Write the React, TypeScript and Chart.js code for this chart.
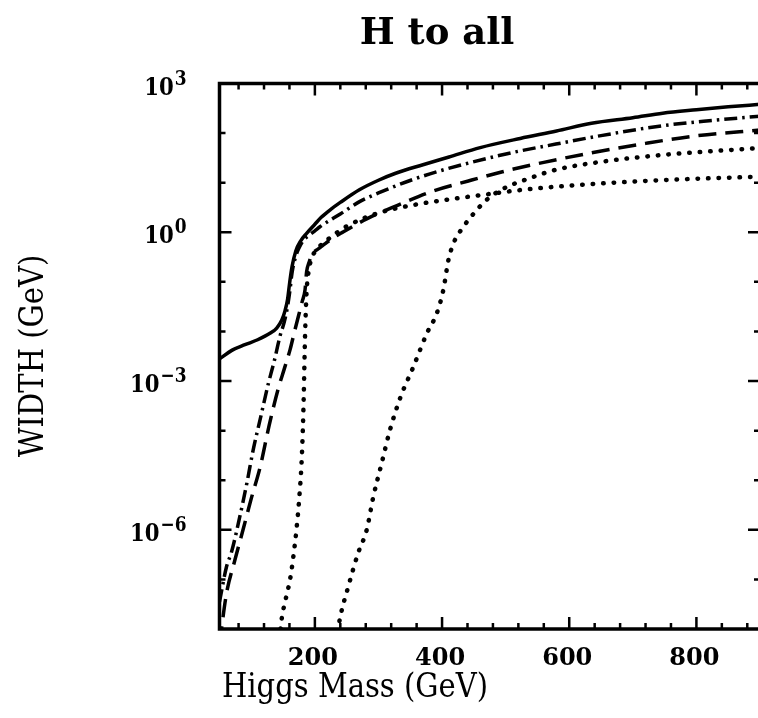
import React, { useEffect, useRef } from 'react';
import { Chart, registerables } from 'chart.js';

Chart.register(...registerables);

// ---- data (Higgs mass in GeV, width in GeV) ----
const totalMass = [50, 70, 90, 110, 130, 140, 148, 153, 157, 160.5, 164, 170, 178, 187, 200, 210, 225, 240, 270, 300, 327, 370, 411, 460, 523, 580, 635, 700, 747, 800, 850, 900];
const totalWidth = [2.8e-3, 4.2e-3, 5.4e-3, 6.8e-3, 9.3e-3, 1.17e-2, 1.7e-2, 2.6e-2, 4.4e-2, 0.10, 0.20, 0.42, 0.68, 0.95, 1.45, 2.0, 2.9, 4.0, 7.2, 11.2, 15.5, 23, 33, 51, 78, 110, 158, 204, 251, 295, 339, 380];

const wwMass = [50, 61, 69, 82, 93, 103, 114, 127, 136, 145, 152, 157, 161, 164, 170, 176, 182, 190, 200, 208, 240, 271, 300, 355, 400, 467, 520, 579, 650, 747, 820, 900];
const wwWidth = [3.5e-8, 1.8e-7, 3.6e-7, 1.86e-6, 8.7e-6, 4.1e-5, 1.7e-4, 9.1e-4, 2.5e-3, 7.9e-3, 1.58e-2, 3.2e-2, 7.1e-2, 0.15, 0.33, 0.51, 0.69, 0.85, 1.07, 1.29, 2.34, 4.2, 6.2, 11.7, 17.8, 30, 43, 60, 89, 141, 178, 219];

const zzMass = [50, 61, 74, 87, 100, 114, 128, 142.5, 152, 161, 168, 174, 180, 184.5, 187, 191, 195, 205, 213, 230, 245, 281.5, 330, 383, 440, 495, 560, 635, 720, 803, 900];
const zzWidth = [5e-9, 5.2e-8, 2.4e-7, 1.0e-6, 4.3e-6, 1.86e-5, 1.26e-4, 7.1e-4, 1.78e-3, 4.3e-3, 1.0e-2, 2.0e-2, 4.0e-2, 6.9e-2, 0.16, 0.25, 0.35, 0.46, 0.55, 0.79, 1.02, 1.86, 3.5, 6.6, 10.7, 16.6, 25.7, 40, 62, 89, 115];

const ttLightMass = [146, 148, 155, 161, 166, 171, 175.5, 179, 181, 182.5, 184.5, 187, 190, 195, 205, 220, 250, 300, 355, 411, 467, 523, 600, 700, 800, 900];
const ttLightWidth = [1e-8, 1.66e-8, 4.5e-8, 1e-7, 2.8e-7, 1e-6, 4.5e-6, 2.2e-5, 1e-4, 5e-4, 7.9e-3, 6.3e-2, 0.16, 0.30, 0.48, 0.71, 1.32, 2.45, 3.55, 4.6, 5.75, 7.1, 8.7, 10.5, 12.0, 13.2];

const ttHeavyMass = [236, 239.5, 252.6, 268, 281.5, 292, 305, 318, 334, 355, 376, 391.6, 402, 410, 418, 433.5, 454.5, 470, 495, 540, 579, 650, 747, 820, 900];
const ttHeavyWidth = [8.9e-9, 1.66e-8, 7.2e-8, 3.4e-7, 1e-6, 4.7e-6, 2.2e-5, 1.02e-4, 4.5e-4, 1.95e-3, 9.1e-3, 2.3e-2, 6.9e-2, 0.275, 0.60, 1.29, 2.8, 4.5, 7.4, 12.6, 18.2, 26.3, 36.3, 42.7, 50];

// ---- axes ----
const xMin = 50;
const xMax = 900;
const yMin = 1e-8;
const yMax = 1e3;
const xMajorTicks = [200, 400, 600, 800];
const xMinorTicks = [80, 120, 160, 240, 280, 320, 360, 440, 480, 520, 560, 640, 680, 720, 760, 840, 880];
const xTickLabels = ['200', '400', '600', '800'];
const yMajorExp = [3, 0, -3, -6];
const yMinorExp = [2, 1, -1, -2, -4, -5, -7];
const yTickLabels = ['3', '0', '\u22123', '\u22126'];

const titleText = 'H to all';
const xTitle = 'Higgs Mass (GeV)';
const yTitle = 'WIDTH (GeV)';

const pts = (xs: number[], ys: number[]) => xs.map((x, i) => ({ x, y: ys[i] }));

const decorPlugin = {
  id: 'decor',
  afterDraw(chart: any) {
    const ctx = chart.ctx as CanvasRenderingContext2D;
    const { left, right, top, bottom } = chart.chartArea;
    const xs = chart.scales.x;
    const ys = chart.scales.y;
    ctx.save();
    ctx.strokeStyle = '#000';
    ctx.fillStyle = '#000';
    // frame
    ctx.lineWidth = 3.5;
    ctx.strokeRect(left, top, right - left, bottom - top);
    // x ticks (bottom and top, inward)
    const xt = (v: number, len: number) => {
      const p = xs.getPixelForValue(v);
      ctx.beginPath();
      ctx.moveTo(p, bottom);
      ctx.lineTo(p, bottom - len);
      ctx.moveTo(p, top);
      ctx.lineTo(p, top + len);
      ctx.stroke();
    };
    ctx.lineWidth = 2.5;
    xMajorTicks.forEach((v) => xt(v, 12));
    xMinorTicks.forEach((v) => xt(v, 6));
    // y ticks (left and right, inward)
    const yt = (e: number, len: number) => {
      const p = ys.getPixelForValue(Math.pow(10, e));
      ctx.beginPath();
      ctx.moveTo(left, p);
      ctx.lineTo(left + len, p);
      ctx.moveTo(right, p);
      ctx.lineTo(right - len, p);
      ctx.stroke();
    };
    yMajorExp.forEach((e) => yt(e, 12));
    yMinorExp.forEach((e) => yt(e, 6));

    // x tick labels
    ctx.font = "bold 24px 'DejaVu Serif'";
    ctx.textAlign = 'center';
    ctx.textBaseline = 'alphabetic';
    xMajorTicks.forEach((v, i) => {
      ctx.fillText(xTickLabels[i], xs.getPixelForValue(v) - 2, bottom + 36);
    });

    // y tick labels: 10 with superscript exponent
    const labelRight = left - 33;
    yMajorExp.forEach((e, i) => {
      const p = ys.getPixelForValue(Math.pow(10, e));
      ctx.save();
      ctx.translate(labelRight, p);
      ctx.scale(0.85, 1);
      ctx.textAlign = 'right';
      ctx.font = "bold 20px 'DejaVu Serif'";
      const sup = yTickLabels[i];
      const supW = ctx.measureText(sup).width;
      ctx.fillText(sup, 0, 1);
      ctx.font = "bold 25px 'DejaVu Serif'";
      ctx.fillText('10', -supW - 1, 11);
      ctx.restore();
    });

    // chart title
    ctx.textAlign = 'center';
    ctx.font = "bold 37px 'DejaVu Serif'";
    ctx.fillText(titleText, 437, 44);

    // x axis title
    ctx.save();
    ctx.translate(355, 697);
    ctx.scale(0.88, 1);
    ctx.font = "33px 'DejaVu Serif'";
    ctx.fillText(xTitle, 0, 0);
    ctx.restore();

    // y axis title
    ctx.save();
    ctx.translate(43, 356);
    ctx.rotate(-Math.PI / 2);
    ctx.scale(0.88, 1);
    ctx.font = "33px 'DejaVu Serif'";
    ctx.textBaseline = 'alphabetic';
    ctx.fillText(yTitle, 0, 0);
    ctx.restore();

    ctx.restore();
  },
};

export default function App() {
  const ref = useRef<HTMLCanvasElement>(null);
  useEffect(() => {
    document.body.style.margin = '0';
    document.body.style.overflow = 'hidden';
    const canvas = ref.current!;
    const common = {
      borderColor: '#000',
      pointRadius: 0,
      fill: false,
      cubicInterpolationMode: 'monotone' as const,
    };
    const chart = new Chart(canvas, {
      type: 'line',
      data: {
        datasets: [
          { ...common, label: 'total', data: pts(totalMass, totalWidth), borderWidth: 3.5 },
          { ...common, label: 'WW', data: pts(wwMass, wwWidth), borderWidth: 3.5, borderDash: [13, 5, 2.5, 5] },
          { ...common, label: 'ZZ', data: pts(zzMass, zzWidth), borderWidth: 3.5, borderDash: [18, 9] },
          { ...common, label: 'tt light', data: pts(ttLightMass, ttLightWidth), borderWidth: 4.5, borderDash: [0.5, 10], borderCapStyle: 'round' },
          { ...common, label: 'tt heavy', data: pts(ttHeavyMass, ttHeavyWidth), borderWidth: 4.5, borderDash: [0.5, 10], borderCapStyle: 'round' },
        ],
      },
      options: {
        responsive: false,
        animation: false,
        devicePixelRatio: 1,
        parsing: false,
        layout: { padding: { left: 219.5, right: 10, top: 83.5, bottom: 89 } },
        scales: {
          x: { type: 'linear', min: xMin, max: xMax, display: false },
          y: { type: 'logarithmic', min: yMin, max: yMax, display: false },
        },
        plugins: { legend: { display: false }, tooltip: { enabled: false }, title: { display: false } },
      },
      plugins: [decorPlugin],
    });
    return () => chart.destroy();
  }, []);
  return (
    <div style={{ width: 758, height: 718, overflow: 'hidden', position: 'relative', background: '#fff' }}>
      <canvas ref={ref} width={770} height={718} style={{ display: 'block', width: '770px', height: '718px' }} />
    </div>
  );
}
